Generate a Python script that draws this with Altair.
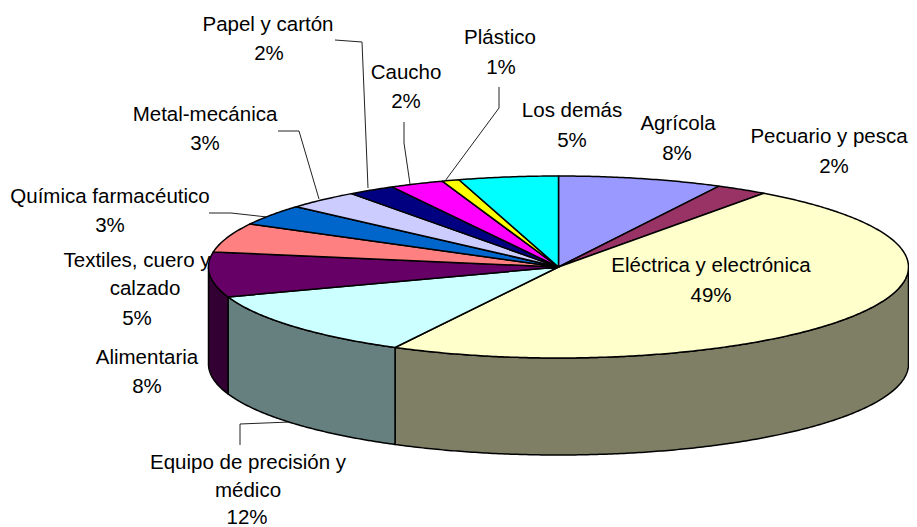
import math
import altair as alt

# ---- data ----
sectors = ["Agrícola", "Pecuario y pesca", "Eléctrica y electrónica", "Equipo de precisión y médico",
           "Alimentaria", "Textiles, cuero y calzado", "Química farmacéutico", "Metal-mecánica",
           "Papel y cartón", "Caucho", "Plástico", "Los demás"]
drawn_share = [7.6, 2.4, 47.85, 11.95, 8.0, 5.2, 3.7, 3.4, 2.2, 2.5, 0.8, 4.6]
label_pct = ["8%", "2%", "49%", "12%", "8%", "5%", "3%", "3%", "2%", "2%", "1%", "5%"]
top_colors = ["#9999FF", "#993366", "#FFFFCC", "#CCFFFF", "#660066", "#FF8080",
              "#0066CC", "#CCCCFF", "#000080", "#FF00FF", "#FFFF00", "#00FFFF"]
side_colors = ["#4C4C80", "#4C1933", "#7F7F66", "#668080", "#330033", "#804040",
               "#003366", "#666680", "#000040", "#800080", "#808000", "#008080"]

# ---- layout of the tilted pie (page pixels less the 8px margin) ----
W, H = 901, 519
CX, CY, RX, RY, DEPTH = 550.5, 259.0, 350.0, 91.0, 97.0


def rim(angle, drop=0.0):
    a = math.radians(angle)
    return [CX + RX * math.sin(a), CY - RY * math.cos(a) + drop]


def arc(a0, a1, drop=0.0):
    n = max(2, int(abs(a1 - a0) * 2))
    return [rim(a0 + (a1 - a0) * i / n, drop) for i in range(n + 1)]


def feature(name, ring):
    return {"type": "Feature", "properties": {"name": name},
            "geometry": {"type": "Polygon", "coordinates": [ring + [ring[0]]]}}


total = sum(drawn_share)
edges = [0.0]
for v in drawn_share:
    edges.append(edges[-1] + v / total * 360)

side_features, top_features = [], []
for name, a0, a1 in zip(sectors, edges[:-1], edges[1:]):
    lo, hi = max(a0, 90.0), min(a1, 270.0)
    if hi > lo:
        side_features.append(feature(name + " lado", arc(lo, hi) + arc(hi, lo, DEPTH)))
    top_features.append(feature(name, [[CX, CY]] + arc(a0, a1)))

color_domain = sectors + [s + " lado" for s in sectors]
color_range = top_colors + side_colors

pie = alt.Chart(alt.Data(values=side_features + top_features)).mark_geoshape(
    stroke="#000000", strokeWidth=1.5, strokeJoin="round"
).encode(
    fill=alt.Fill("properties.name:N", scale=alt.Scale(domain=color_domain, range=color_range), legend=None)
).project(type="identity", scale=1, translate=[0, 0])

# ---- labels ----
label_rows = [
    (sectors[0], 670, 116), (label_pct[0], 669, 146),
    (sectors[1], 821, 129), (label_pct[1], 826, 159),
    (sectors[2], 703, 258), (label_pct[2], 703, 288),
    ("Equipo de precisión y", 240, 455), ("médico", 240, 483), (label_pct[3], 239, 510),
    (sectors[4], 139, 350), (label_pct[4], 139, 379),
    ("Textiles, cuero y", 129, 253), ("calzado", 137, 281), (label_pct[5], 129, 311),
    (sectors[6], 102, 189), (label_pct[6], 102, 218),
    (sectors[7], 197, 107), (label_pct[7], 197, 136),
    (sectors[8], 260, 17), (label_pct[8], 261, 46),
    (sectors[9], 398, 65), (label_pct[9], 398, 94),
    (sectors[10], 492, 30), (label_pct[10], 493, 60),
    (sectors[11], 564, 103), (label_pct[11], 564, 133),
]
x_scale = alt.Scale(domain=[0, W], range=[0, W], nice=False, zero=False)
y_scale = alt.Scale(domain=[0, H], range=[0, H], nice=False, zero=False)
text = alt.Chart(alt.Data(values=[{"t": t, "x": x, "y": y} for t, x, y in label_rows])).mark_text(
    font="Liberation Sans", fontSize=20.5, color="#000000", align="center", baseline="middle"
).encode(
    x=alt.X("x:Q", scale=x_scale, axis=None),
    y=alt.Y("y:Q", scale=y_scale, axis=None),
    text="t:N",
)

# ---- leader lines ----
leaders = {
    "Papel": [(327, 32), (354, 34), (360, 180)],
    "Caucho": [(396, 114), (396, 135), (402, 176)],
    "Plástico": [(491, 79), (491, 100), (437, 173)],
    "Metal": [(270, 123), (291, 123), (311, 191)],
    "Química": [(201, 205), (223, 205), (259, 209)],
    "Equipo": [(232, 437), (232, 416), (282, 414)],
}
leader_rows = [{"k": k, "o": i, "x": p[0], "y": p[1]} for k, pts in leaders.items() for i, p in enumerate(pts)]
lines = alt.Chart(alt.Data(values=leader_rows)).mark_line(color="#222222", strokeWidth=1).encode(
    x=alt.X("x:Q", scale=x_scale, axis=None),
    y=alt.Y("y:Q", scale=y_scale, axis=None),
    detail="k:N",
    order="o:Q",
)

chart = alt.layer(pie, lines, text).properties(
    width=W, height=H, padding=0, autosize=alt.AutoSizeParams(type="none"),
    background="#FFFFFF",
).configure_view(stroke=None)

chart.save("out.html", embed_options={"renderer": "svg", "actions": False})
